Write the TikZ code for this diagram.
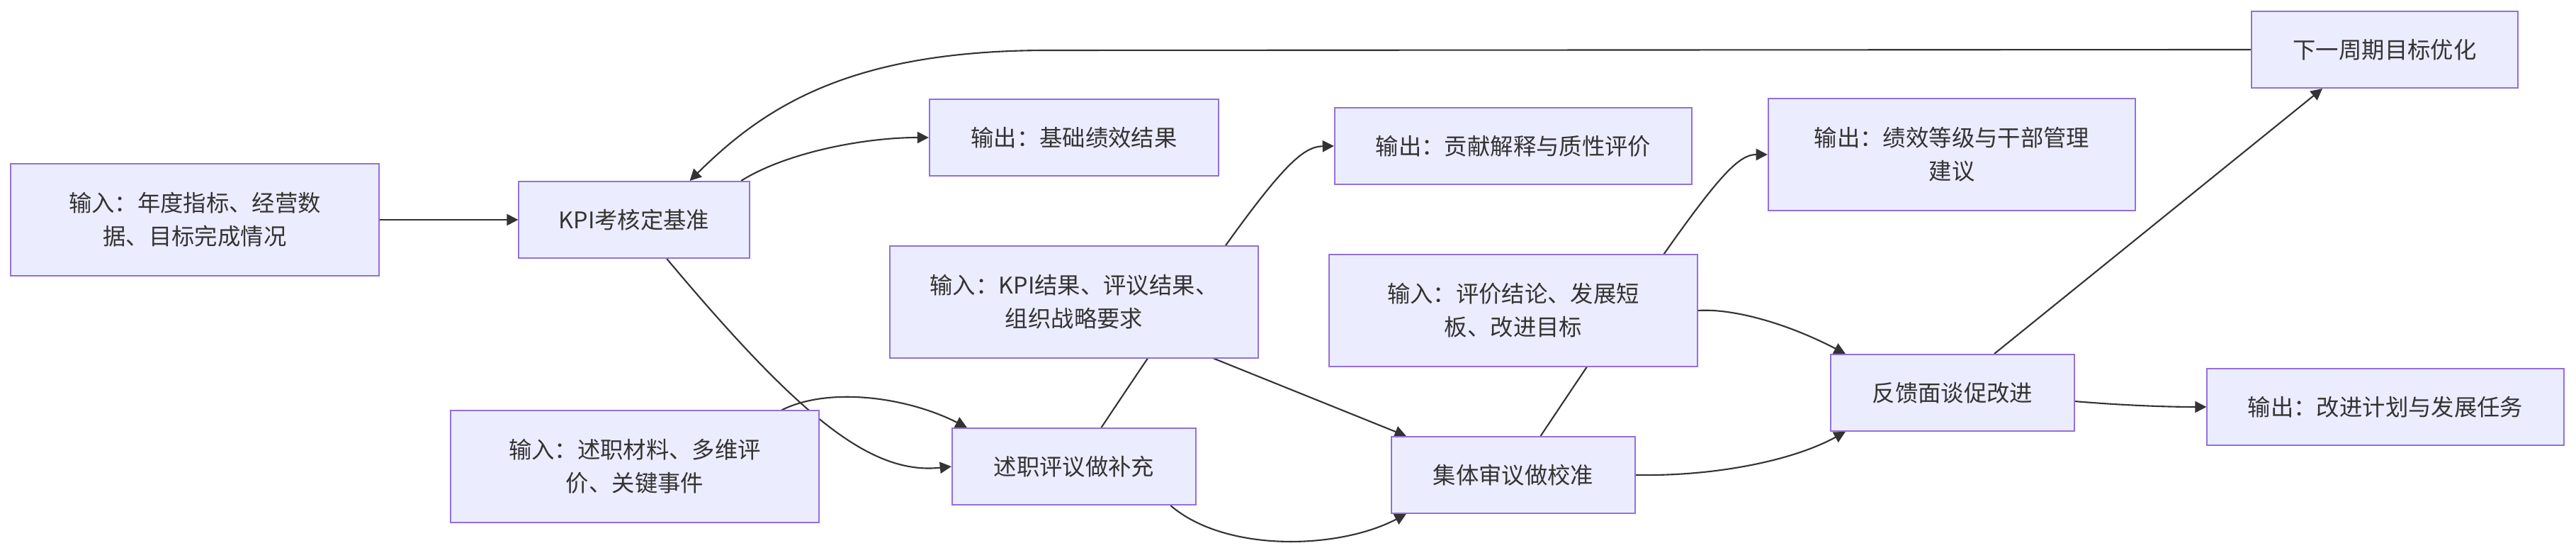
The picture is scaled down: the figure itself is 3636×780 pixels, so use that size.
\documentclass[tikz,border=0pt]{standalone}
\usepackage{fontspec}
\setmainfont{Noto Sans CJK SC}
\usetikzlibrary{arrows.meta, backgrounds}
\definecolor{boxfill}{RGB}{236, 236, 255}
\definecolor{boxline}{RGB}{147, 112, 219}
\definecolor{edgeline}{RGB}{51, 51, 51}
\tikzstyle{stepbox}  = [rectangle, minimum width=3.44cm, minimum height=1.08cm, inner sep=0pt,
                        align=center, draw=boxline, fill=boxfill, line width=0.55pt]
\tikzstyle{inputbox} = [stepbox, minimum width=5.2cm, minimum height=1.57cm]
\tikzstyle{arrow}    = [-{Triangle[length=4.6pt, width=4.6pt]}, line width=0.6pt, draw=edgeline]

\begin{document}
\begin{tikzpicture}[x=0.01cm, y=-0.01cm,
    every node/.style={font=\fontsize{9.2pt}{13.4pt}\selectfont, text=edgeline}]
  \useasboundingbox (0,0) rectangle (3636,780);

  \node (in1)  [inputbox] at (275,310)  {输入：年度指标、经营数\\据、目标完成情况};
  \node (kpi)  [stepbox, minimum width=3.25cm] at (895,310) {KPI考核定基准};
  \node (out1) [stepbox, minimum width=4.08cm] at (1516,194) {输出：基础绩效结果};

  \node (in2)  [inputbox] at (1516,426) {输入：KPI结果、评议结果、\\组织战略要求};
  \node (in3)  [inputbox] at (896,658)  {输入：述职材料、多维评\\价、关键事件};
  \node (rev)  [stepbox]  at (1516,658) {述职评议做补充};

  \node (out2) [stepbox, minimum width=5.04cm] at (2136,206) {输出：贡献解释与质性评价};
  \node (in4)  [inputbox] at (2136,438) {输入：评价结论、发展短\\板、改进目标};
  \node (cal)  [stepbox]  at (2136,670) {集体审议做校准};

  \node (out3) [inputbox, minimum width=5.18cm] at (2755,218) {输出：绩效等级与干部管理\\建议};
  \node (fb)   [stepbox]  at (2756,554) {反馈面谈促改进};
  \node (next) [stepbox, minimum width=3.76cm] at (3366,70)  {下一周期目标优化};
  \node (out4) [stepbox, minimum width=5.03cm] at (3367,574) {输出：改进计划与发展任务};

  % edges run behind the boxes
  \begin{scope}[on background layer]
    \draw [arrow] (in1) -- (kpi);
    \draw [arrow] (kpi.20) .. controls (1110,215) and (1220,194) .. (out1.west);
    \draw [arrow] (next.west) -- (1480,71) .. controls (1200,71) and (1080,150) .. (kpi.35);
    \draw [arrow] (kpi.-50) .. controls (1130,590) and (1230,670) .. (rev.west);
    \draw [arrow] (in3.21) .. controls (1170,545) and (1280,560) .. (rev.160);
    \draw [arrow] (rev.55) .. controls (1790,250) and (1830,207) .. (out2.west);
    \draw [arrow] (in2.-22) -- (cal.160);
    \draw [arrow] (rev.-22) .. controls (1730,780) and (1890,775) .. (cal.200);
    \draw [arrow] (cal.55) .. controls (2405,270) and (2445,218) .. (out3.west);
    \draw [arrow] (in4.east) .. controls (2445,435) and (2520,455) .. (fb.160);
    \draw [arrow] (cal.east) .. controls (2420,672) and (2530,650) .. (fb.200);
    \draw [arrow] (fb.43) -- (next.212);
    \draw [arrow] (fb.-4) .. controls (3000,572) and (3060,574) .. (out4.west);
  \end{scope}
\end{tikzpicture}
\end{document}
